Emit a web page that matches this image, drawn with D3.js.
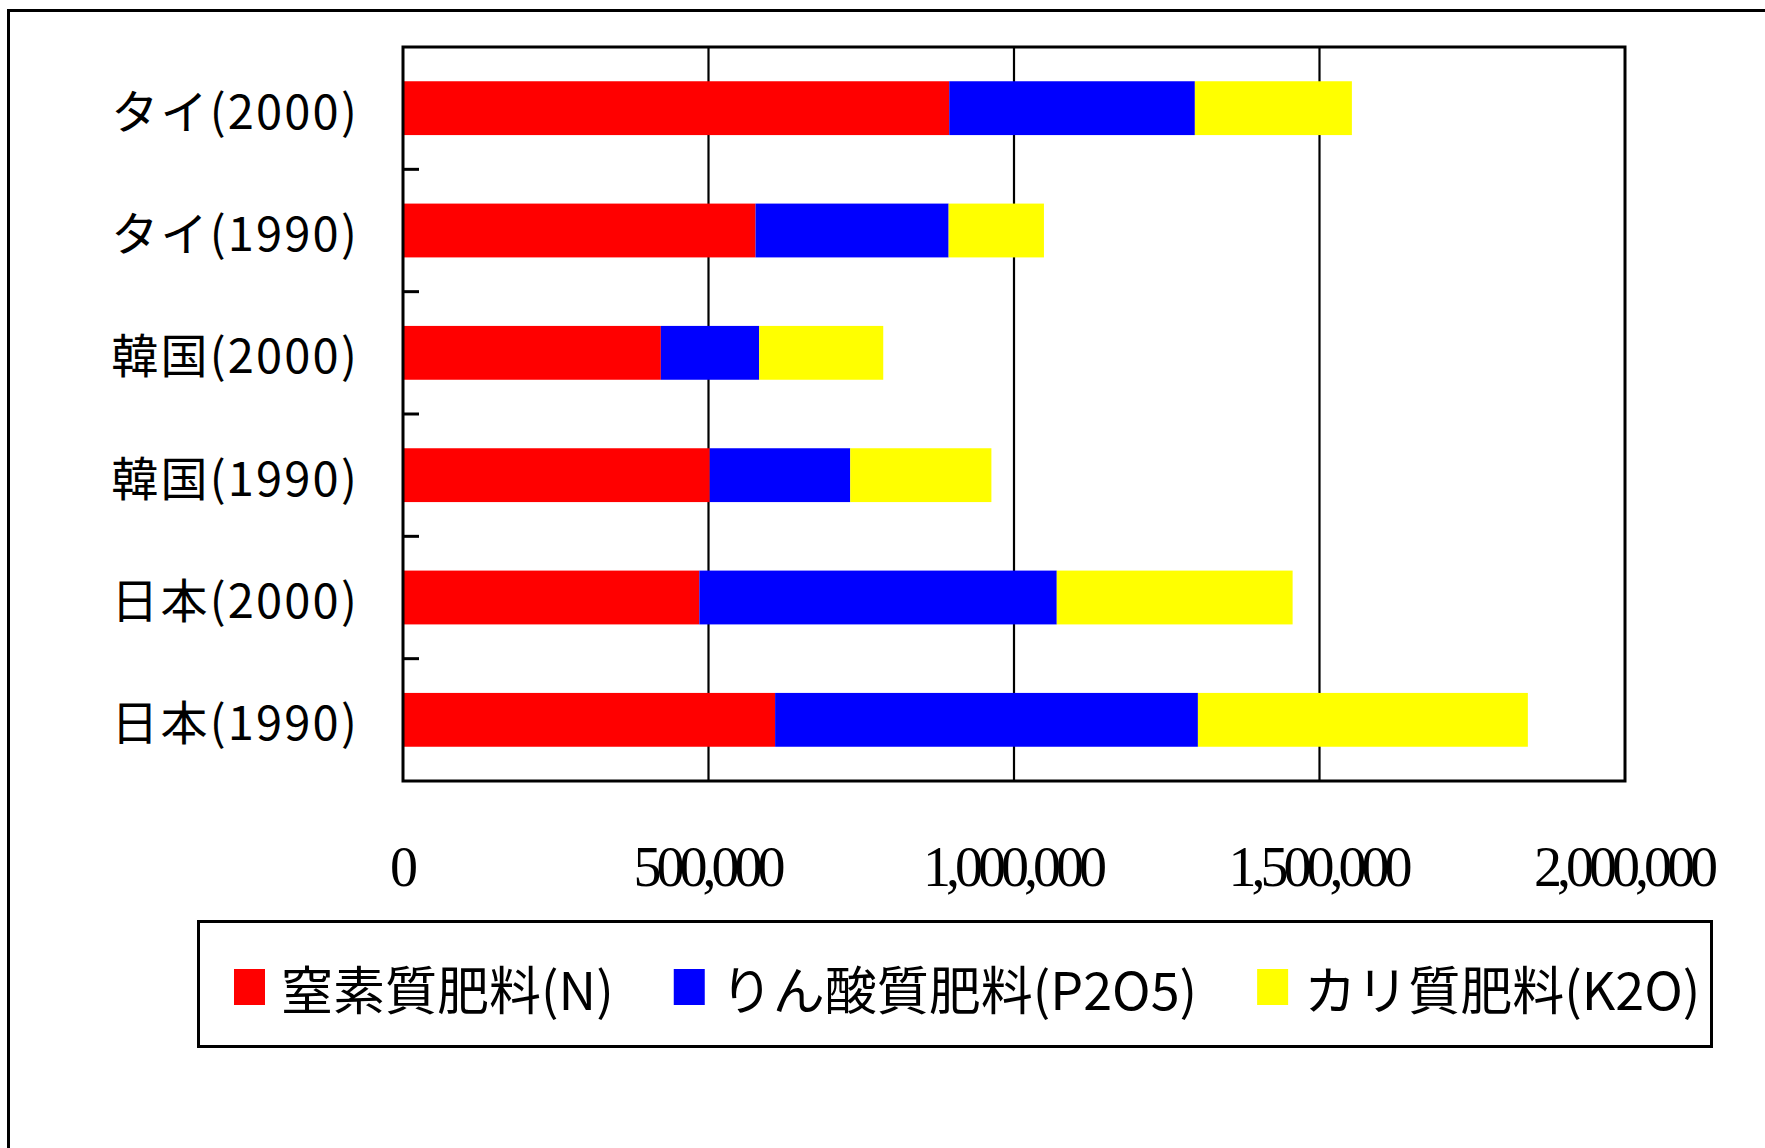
<!DOCTYPE html>
<html>
<head>
<meta charset="utf-8">
<script src="https://cdn.jsdelivr.net/npm/d3@7"></script>
<style>
  html, body { margin: 0; padding: 0; background: #fff; }
  svg { display: block; }
</style>
</head>
<body>
<svg id="chart" width="1765" height="1148"></svg>
<script>
// ---- data ----
const categories = ["タイ(2000)", "タイ(1990)", "韓国(2000)", "韓国(1990)", "日本(2000)", "日本(1990)"];
const seriesNames = ["窒素質肥料(N)", "りん酸質肥料(P2O5)", "カリ質肥料(K2O)"];
const nitrogen  = [894000, 577000, 422000, 502000, 485000, 609000];
const phosphate = [402000, 316000, 161000, 230000, 585000, 692000];
const potash    = [257000, 156000, 203000, 231000, 386000, 540000];
const seriesColors = ["#FF0000", "#0000FF", "#FFFF00"];
const xTickValues = [0, 500000, 1000000, 1500000, 2000000];

// ---- layout ----
const svg = d3.select("#chart");
const plot = { left: 403, top: 47, right: 1625, bottom: 781 };
const jp = "'Noto Sans CJK JP', 'Noto Sans CJK SC', sans-serif";

// outer chart-area border (extends past the viewport on right/bottom)
svg.append("rect")
  .attr("x", 8.5).attr("y", 10.5).attr("width", 3000).attr("height", 3000)
  .attr("fill", "none").attr("stroke", "#000").attr("stroke-width", 3);

const x = d3.scaleLinear().domain([0, 2000000]).range([plot.left, plot.right]);
const y = d3.scaleBand().domain(categories).range([plot.top, plot.bottom])
  .paddingInner(0.56).paddingOuter(0.28);

const rows = categories.map((c, i) => ({ cat: c, N: nitrogen[i], P: phosphate[i], K: potash[i] }));
const stack = d3.stack().keys(["N", "P", "K"])(rows);

// gridlines
svg.append("g").selectAll("line").data(xTickValues.slice(1, -1)).join("line")
  .attr("x1", d => x(d)).attr("x2", d => x(d))
  .attr("y1", plot.top).attr("y2", plot.bottom)
  .attr("stroke", "#000").attr("stroke-width", 2.2);

// bars
svg.append("g").selectAll("g").data(stack).join("g")
  .attr("fill", (d, i) => seriesColors[i])
  .selectAll("rect").data(d => d).join("rect")
  .attr("x", d => x(d[0]))
  .attr("width", d => x(d[1]) - x(d[0]))
  .attr("y", d => y(d.data.cat))
  .attr("height", y.bandwidth());

// plot border
svg.append("rect")
  .attr("x", plot.left).attr("y", plot.top)
  .attr("width", plot.right - plot.left).attr("height", plot.bottom - plot.top)
  .attr("fill", "none").attr("stroke", "#000").attr("stroke-width", 3);

// category-boundary ticks (inside)
const step = y.step();
svg.append("g").selectAll("line").data(categories.slice(1)).join("line")
  .attr("x1", plot.left).attr("x2", plot.left + 16)
  .attr("y1", d => y(d) - step * y.paddingInner() / 2)
  .attr("y2", d => y(d) - step * y.paddingInner() / 2)
  .attr("stroke", "#000").attr("stroke-width", 3);

// y axis labels
const yAxis = d3.axisLeft(y).tickSize(0).tickPadding(plot.left - 359);
const yg = svg.append("g").attr("transform", `translate(${plot.left},0)`).call(yAxis);
yg.select(".domain").remove();
yg.selectAll("text")
  .attr("font-family", jp).attr("font-size", 47).attr("fill", "#000")
  .attr("letter-spacing", "2.2px")
  .attr("dy", null).attr("dominant-baseline", "central");

// x axis labels
const xAxis = d3.axisBottom(x).tickValues(xTickValues).tickFormat(d3.format(",")).tickSize(0);
const xg = svg.append("g").attr("transform", `translate(0,${plot.bottom})`).call(xAxis);
xg.select(".domain").remove();
xg.selectAll("text")
  .attr("font-family", "'Liberation Serif', 'Times New Roman', serif")
  .attr("font-size", 56).attr("fill", "#000")
  .attr("letter-spacing", "-5px")
  .attr("y", 886 - plot.bottom).attr("dy", null).attr("dx", -2);

// legend
const legend = svg.append("g");
legend.append("rect")
  .attr("x", 198.5).attr("y", 921.5).attr("width", 1513).attr("height", 125)
  .attr("fill", "#fff").attr("stroke", "#000").attr("stroke-width", 3);
let lx = 234;
const ly = 987;
seriesNames.forEach((name, i) => {
  legend.append("rect")
    .attr("x", lx).attr("y", ly - 18).attr("width", 31).attr("height", 36)
    .attr("fill", seriesColors[i]);
  const t = legend.append("text")
    .attr("x", lx + 47).attr("y", ly)
    .attr("font-family", jp).attr("font-size", 52).attr("fill", "#000")
    .attr("dominant-baseline", "central")
    .text(name);
  const w = t.node().getComputedTextLength();
  lx = lx + 47 + w + 60;
});
</script>
</body>
</html>
